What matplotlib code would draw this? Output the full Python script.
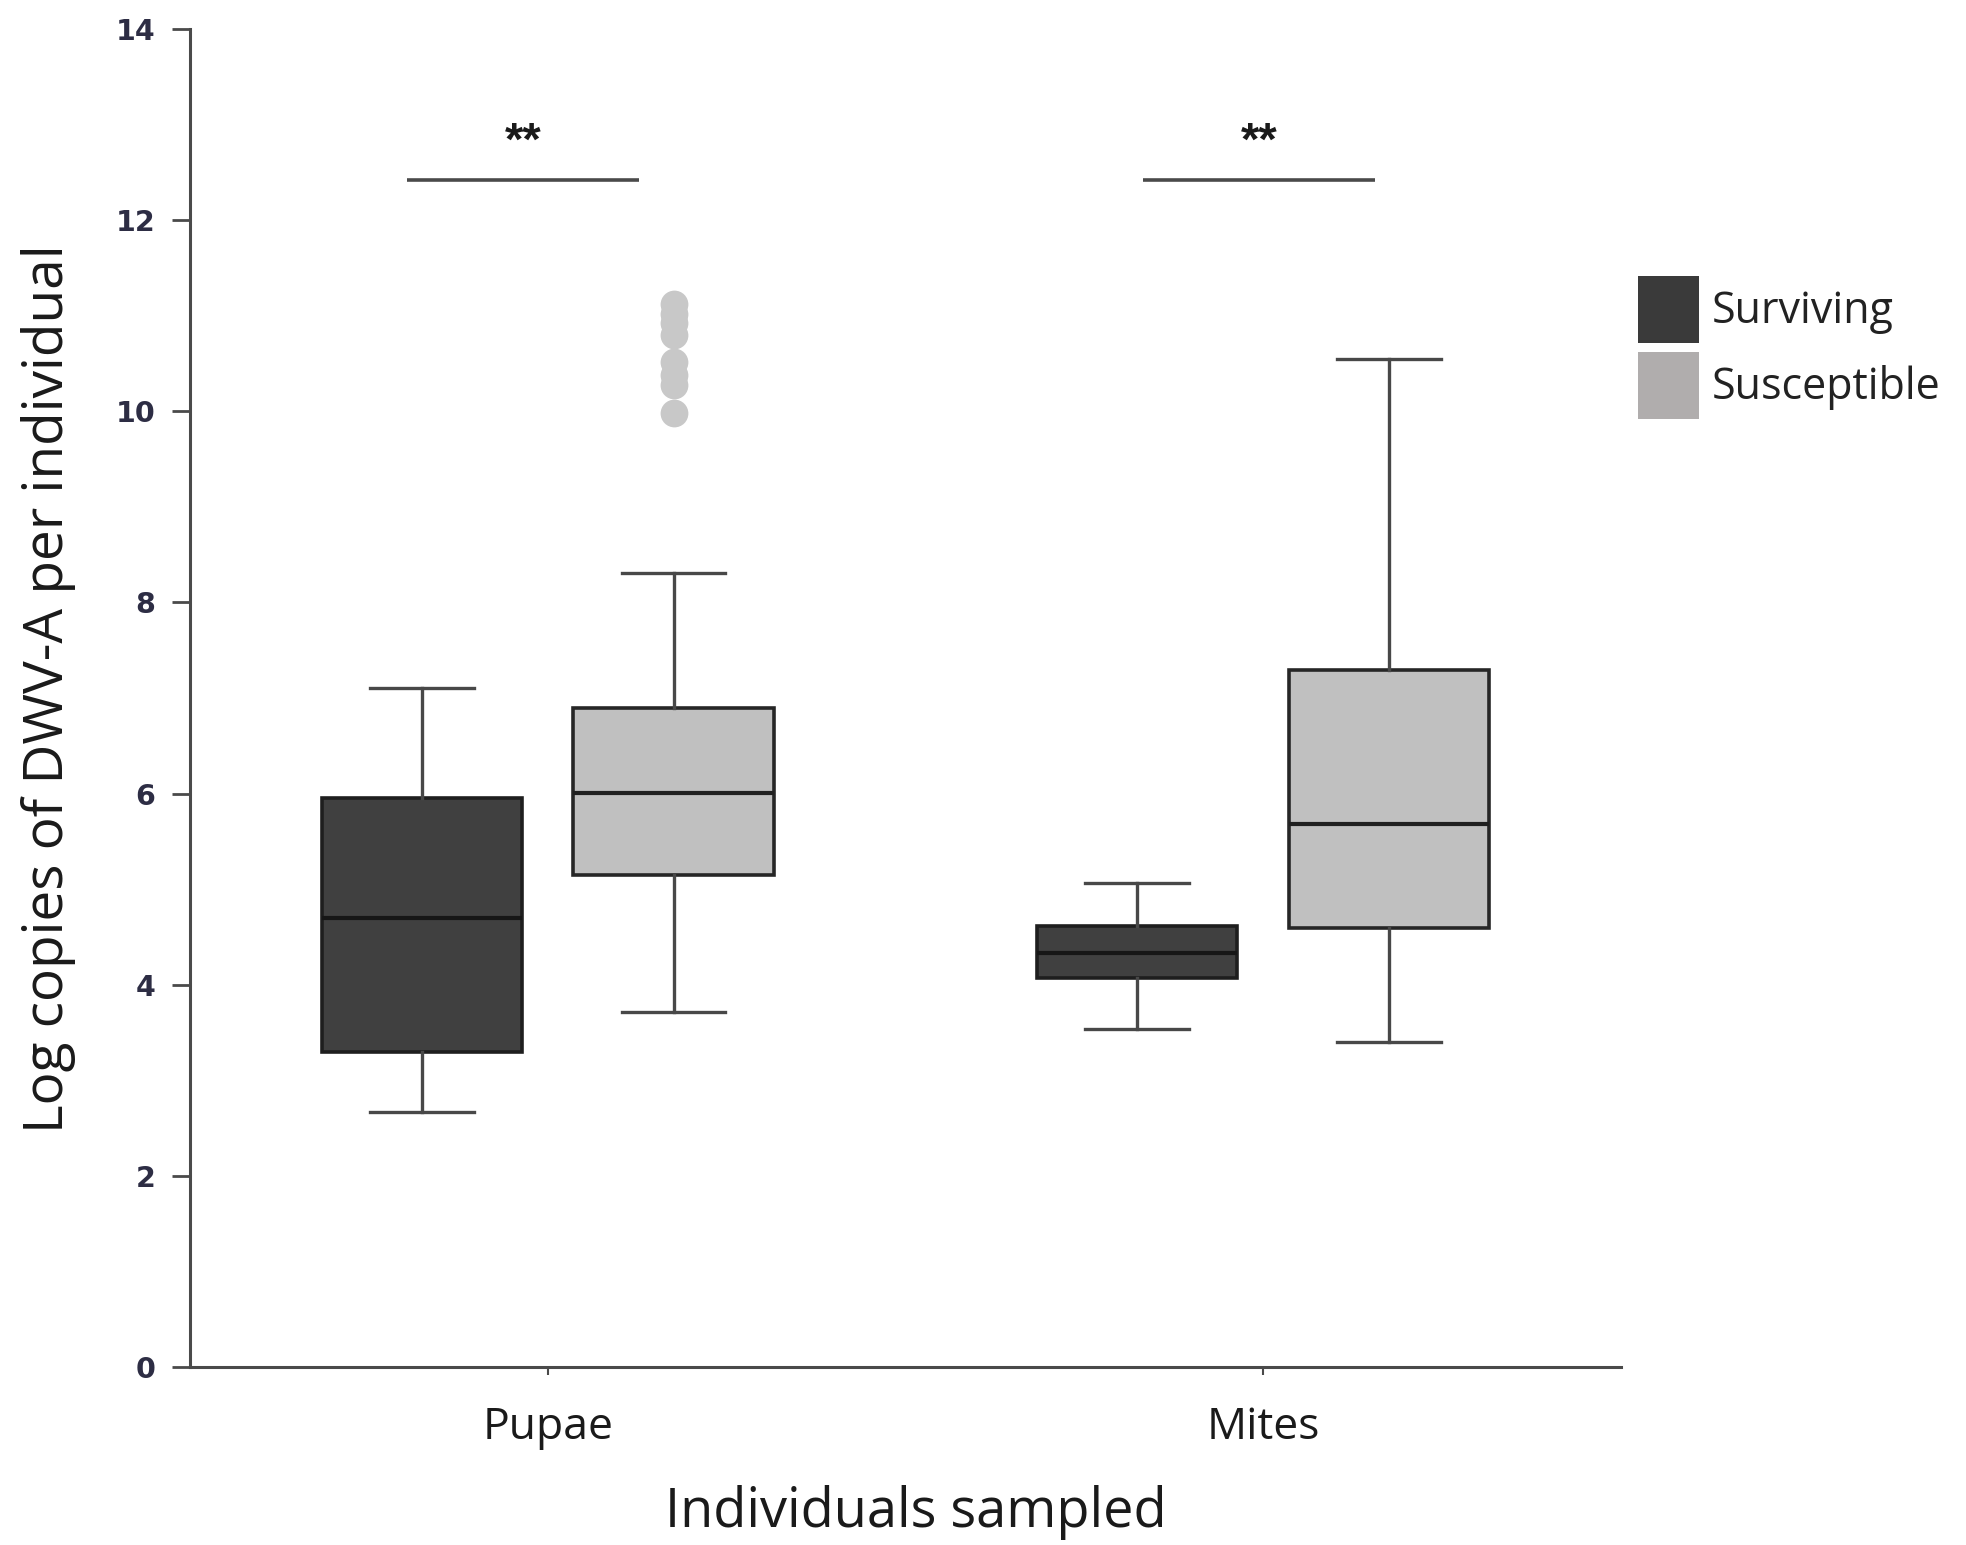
import numpy as np
import matplotlib.pyplot as plt
from matplotlib.patches import Patch

plt.rcParams['font.family'] = ['Open Sans', 'DejaVu Sans']

groups = ['Pupae', 'Mites']
series = ['Surviving', 'Susceptible']

# five-number summaries, one value per group (pupae, mites)
surv_lo = [2.67, 3.54]
surv_q1 = [3.30, 4.07]
surv_med = [4.70, 4.33]
surv_q3 = [5.95, 4.61]
surv_hi = [7.10, 5.06]

susc_lo = [3.71, 3.40]
susc_q1 = [5.15, 4.59]
susc_med = [6.01, 5.68]
susc_q3 = [6.90, 7.29]
susc_hi = [8.31, 10.55]

pupae_susc_outliers = [11.12, 11.02, 10.92, 10.80, 10.52, 10.38, 10.28, 9.98]
mites_susc_outliers = []

# significance bars
sig_left = [-0.197, 0.832]
sig_right = [0.128, 1.156]
sig_level = 12.42
sig_label = ['**', '**']

yticks = [0, 2, 4, 6, 8, 10, 12, 14]

dark = '#404040'
light = '#c0c0c0'


def make_stats(lo, q1, med, q3, hi, fliers):
    out = []
    for i in range(len(lo)):
        out.append(dict(whislo=lo[i], q1=q1[i], med=med[i], q3=q3[i], whishi=hi[i], fliers=fliers[i]))
    return out


fig = plt.figure(figsize=(19.66, 15.45), dpi=100)
ax = fig.add_axes([0.0966, 0.1152, 0.7279, 0.866])

pos = np.arange(len(groups))
off = 0.176

common = dict(widths=0.28, capwidths=0.145, patch_artist=True, showfliers=True,
              whiskerprops=dict(color='#484848', linewidth=2.4),
              capprops=dict(color='#484848', linewidth=2.4),
              manage_ticks=False)

ax.bxp(make_stats(surv_lo, surv_q1, surv_med, surv_q3, surv_hi, [[], []]),
       positions=pos - off,
       boxprops=dict(facecolor=dark, edgecolor='#1e1e1e', linewidth=2.6),
       medianprops=dict(color='#161616', linewidth=3),
       **common)
ax.bxp(make_stats(susc_lo, susc_q1, susc_med, susc_q3, susc_hi, [pupae_susc_outliers, mites_susc_outliers]),
       positions=pos + off,
       boxprops=dict(facecolor=light, edgecolor='#262626', linewidth=2.6),
       medianprops=dict(color='#202020', linewidth=3),
       flierprops=dict(marker='o', markersize=20, markerfacecolor='#c8c8c8', markeredgecolor='none'),
       **common)

for i in range(len(groups)):
    ax.plot([sig_left[i], sig_right[i]], [sig_level, sig_level], color='#4a4a4a', linewidth=2.6, solid_capstyle='butt')
    ax.text((sig_left[i] + sig_right[i]) / 2, sig_level + 0.27, sig_label[i], ha='center', va='baseline',
            fontsize=34, fontweight='bold', family=['Liberation Sans', 'DejaVu Sans'], color='#1a1a1a')

ax.set_xlim(-0.5, 1.5)
ax.set_ylim(0, 14)
ax.set_yticks(yticks)
ax.set_yticklabels([str(v) for v in yticks])
for lab in ax.get_yticklabels():
    lab.set_family(['DejaVu Sans'])
    lab.set_fontweight('bold')
    lab.set_fontsize(20.5)
    lab.set_color('#2d2d44')
ax.set_xticks(pos)
ax.set_xticklabels(groups, fontsize=32, color='#1a1a1a')

ax.spines['top'].set_visible(False)
ax.spines['right'].set_visible(False)
for s in ['left', 'bottom']:
    ax.spines[s].set_linewidth(2.2)
    ax.spines[s].set_color('#4a4a4a')
ax.tick_params(axis='y', length=13, width=2, color='#4a4a4a', pad=12)
ax.tick_params(axis='x', length=6, width=1.5, color='#4a4a4a', pad=22)

ax.set_ylabel('Log copies of DWV-A per individual', fontsize=39.5, color='#1a1a1a', labelpad=25)
ax.yaxis.set_label_coords(-0.0795, 0.507)
ax.set_xlabel('Individuals sampled', fontsize=39, color='#1a1a1a')
ax.xaxis.set_label_coords(0.507, -0.088)

handles = [Patch(facecolor='#3a3a3a', edgecolor='none'), Patch(facecolor='#b0adad', edgecolor='none')]
fig.legend(handles, series, loc='upper left', bbox_to_anchor=(0.8332, 0.8214), frameon=False,
           fontsize=31, handlelength=1.42, handleheight=2.02, labelspacing=0.2, handletextpad=0.28,
           borderpad=0, borderaxespad=0, labelcolor='#222222')

fig.savefig('out.png', dpi=100)
